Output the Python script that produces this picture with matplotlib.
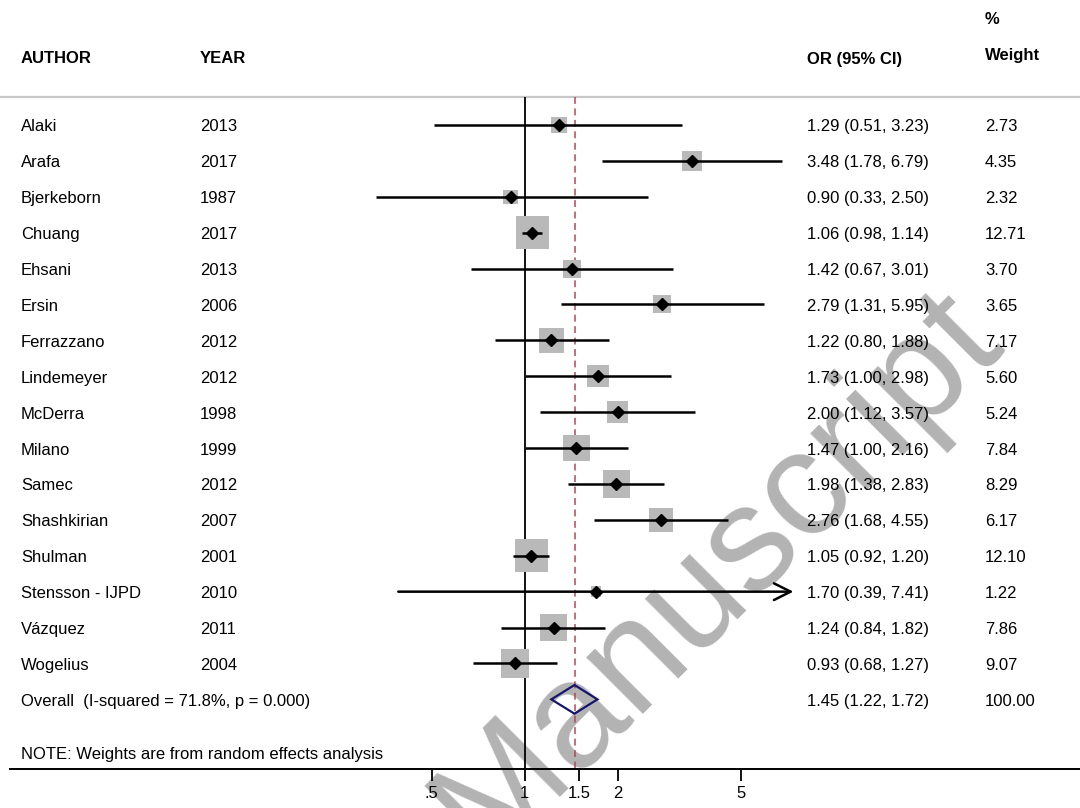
import numpy as np
import matplotlib.pyplot as plt
from matplotlib.patches import Polygon
from matplotlib.transforms import blended_transform_factory

plt.rcParams['font.family'] = ['Liberation Sans', 'DejaVu Sans']

# study data
authors = ["Alaki", "Arafa", "Bjerkeborn", "Chuang", "Ehsani", "Ersin", "Ferrazzano",
           "Lindemeyer", "McDerra", "Milano", "Samec", "Shashkirian", "Shulman",
           "Stensson - IJPD", "Vázquez", "Wogelius"]
years = ["2013", "2017", "1987", "2017", "2013", "2006", "2012", "2012", "1998",
         "1999", "2012", "2007", "2001", "2010", "2011", "2004"]
or_est = [1.29, 3.48, 0.90, 1.06, 1.42, 2.79, 1.22, 1.73, 2.00, 1.47, 1.98, 2.76,
          1.05, 1.70, 1.24, 0.93]
ci_lo = [0.51, 1.78, 0.33, 0.98, 0.67, 1.31, 0.80, 1.00, 1.12, 1.00, 1.38, 1.68,
         0.92, 0.39, 0.84, 0.68]
ci_hi = [3.23, 6.79, 2.50, 1.14, 3.01, 5.95, 1.88, 2.98, 3.57, 2.16, 2.83, 4.55,
         1.20, 7.41, 1.82, 1.27]
weights = [2.73, 4.35, 2.32, 12.71, 3.70, 3.65, 7.17, 5.60, 5.24, 7.84, 8.29, 6.17,
           12.10, 1.22, 7.86, 9.07]
arrow_right = [False] * 13 + [True] + [False] * 2

overall = (1.45, 1.22, 1.72)
overall_label = "Overall  (I-squared = 71.8%, p = 0.000)"
note = "NOTE: Weights are from random effects analysis"

ticks = [0.5, 1, 1.5, 2, 5]
tick_labels = [".5", "1", "1.5", "2", "5"]

W, H = 1080, 808
fig = plt.figure(figsize=(W / 100, H / 100), dpi=100)
ax = fig.add_axes([10 / W, 39 / H, 1070 / W, 769 / H])
ax.set_zorder(1)
ax.set_facecolor('none')
ax.set_xscale('log')
ax.set_xlim(0.0216, 62.7)
ax.set_ylim(17.94, -3.482)

for s in ['top', 'left', 'right']:
    ax.spines[s].set_visible(False)
ax.spines['bottom'].set_linewidth(1.4)
ax.set_yticks([])
ax.xaxis.set_minor_locator(plt.NullLocator())
ax.set_xticks(ticks)
ax.set_xticklabels(tick_labels)
ax.tick_params(axis='x', length=8.5, width=1.3, pad=4, labelsize=12)

# watermark, drawn under the axes
fig.text(718 / W, 1 - 572 / H, "Manuscript", fontsize=108, color='#b3b3b3',
         rotation=45, ha='center', va='center', zorder=0)

top_row = -0.78
ax.axhline(top_row, color='#c8c8c8', lw=1.6, xmin=-0.01, xmax=1, clip_on=False)
ax.vlines(1, top_row, 17.94, color='black', lw=1.3)
ax.vlines(overall[0], top_row, 17.94, color='#b04a55', lw=1.1,
          linestyles=(0, (4.5, 3)))

rows = np.arange(len(authors))
ax.scatter(or_est, rows, marker='s', s=np.array(weights) * 46, color='#b9b9b9',
           linewidths=0, zorder=2)
for i in rows:
    if arrow_right[i]:
        ax.annotate("", xy=(ci_hi[i], i), xytext=(ci_lo[i], i),
                    arrowprops=dict(arrowstyle='->', lw=1.8, color='black',
                                    mutation_scale=30, shrinkA=0, shrinkB=0),
                    zorder=3)
    else:
        ax.plot([ci_lo[i], ci_hi[i]], [i, i], color='black', lw=1.8, zorder=3,
                solid_capstyle='butt')
ax.plot(or_est, rows, 'D', color='black', ms=6.5, zorder=4)

# pooled estimate diamond
orow = len(authors)
est, lo, hi = overall
dia = Polygon([(lo, orow), (est, orow - 0.4), (hi, orow), (est, orow + 0.4)],
              closed=True, fill=False, edgecolor='#16166e', lw=1.6, zorder=4)
ax.add_patch(dia)

tr = blended_transform_factory(fig.transFigure, ax.transData)
fs = 12
dy = 0.055  # nudge text onto the row centre
ax.text(21 / W, -1.894 + dy, "AUTHOR", transform=tr, fontsize=fs, fontweight='bold', va='center')
ax.text(200 / W, -1.894 + dy, "YEAR", transform=tr, fontsize=fs, fontweight='bold', va='center')
ax.text(807 / W, -1.87 + dy, "OR (95% CI)", transform=tr, fontsize=fs, fontweight='bold', va='center')
ax.text(985 / W, -2.98 + dy, "%", transform=tr, fontsize=fs, fontweight='bold', va='center')
ax.text(985 / W, -1.98 + dy, "Weight", transform=tr, fontsize=fs, fontweight='bold', va='center')

for i in rows:
    ax.text(21 / W, i + dy, authors[i], transform=tr, fontsize=fs, va='center')
    ax.text(200 / W, i + dy, years[i], transform=tr, fontsize=fs, va='center')
    ax.text(807 / W, i + dy, f"{or_est[i]:.2f} ({ci_lo[i]:.2f}, {ci_hi[i]:.2f})",
            transform=tr, fontsize=fs, va='center')
    ax.text(985 / W, i + dy, f"{weights[i]:.2f}", transform=tr, fontsize=fs, va='center')

ax.text(21 / W, orow + dy, overall_label, transform=tr, fontsize=fs, va='center')
ax.text(807 / W, orow + dy, f"{est:.2f} ({lo:.2f}, {hi:.2f})", transform=tr,
        fontsize=fs, va='center')
ax.text(985 / W, orow + dy, "100.00", transform=tr, fontsize=fs, va='center')
ax.text(21 / W, 17.47 + dy, note, transform=tr, fontsize=fs, va='center')

fig.savefig("out.png", dpi=100)
